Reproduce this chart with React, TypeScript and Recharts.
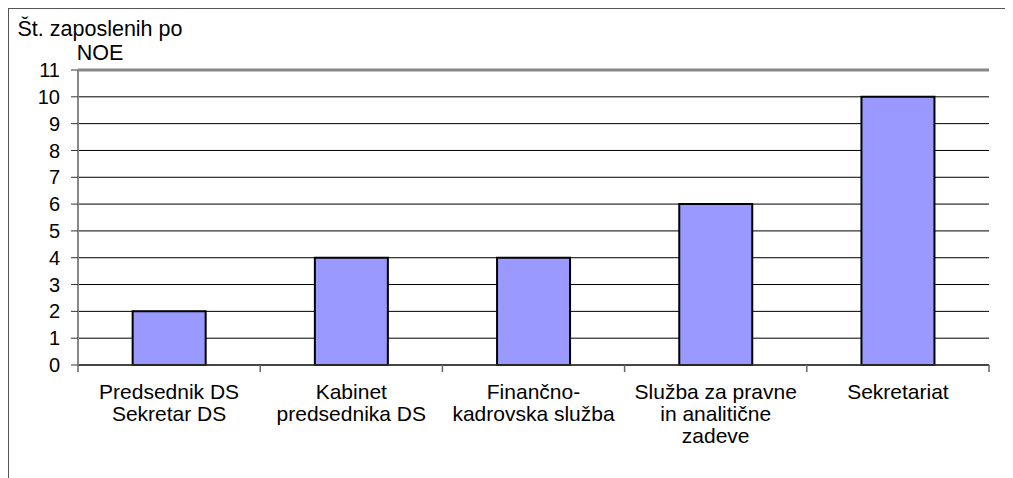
import { BarChart, Bar, XAxis, YAxis, CartesianGrid, ReferenceLine } from 'recharts'

const categories = [
  'Predsednik DS\nSekretar DS',
  'Kabinet\npredsednika DS',
  'Finančno-\nkadrovska služba',
  'Služba za pravne\nin analitične\nzadeve',
  'Sekretariat',
]
const employees = [2, 4, 4, 6, 10]
const yTicks = [0, 1, 2, 3, 4, 5, 6, 7, 8, 9, 10, 11]
const titleLines = ['Št. zaposlenih po', 'NOE']

const data = categories.map((name, i) => ({ name, value: employees[i] }))

const W = 1004
const H = 469
const margin = { top: 61, right: 24, left: 0, bottom: 13 }
const yAxisW = 69
const bandW = (W - margin.left - margin.right - yAxisW) / categories.length
const font = '"Liberation Sans", Arial, sans-serif'

const CategoryTick = (props: any) => {
  const { x, y, payload, index } = props
  const lines = String(payload.value).split('\n')
  const axisY = y - 8
  return (
    <g>
      <line x1={x - bandW / 2} x2={x - bandW / 2} y1={axisY} y2={axisY + 7} stroke="#666" strokeWidth={1.5} />
      {index === categories.length - 1 && (
        <line x1={x + bandW / 2} x2={x + bandW / 2} y1={axisY} y2={axisY + 7} stroke="#666" strokeWidth={1.5} />
      )}
      <text textAnchor="middle" fontFamily={font} fontSize={21} fill="#000">
        {lines.map((l, i) => (
          <tspan key={i} x={x} y={y + 26 + i * 22}>{l}</tspan>
        ))}
      </text>
    </g>
  )
}

const Title = () => (
  <text textAnchor="middle" fontFamily={font} fontSize={21.5} fill="#000">
    {titleLines.map((l, i) => (
      <tspan key={i} x={91} y={27 + i * 24}>{l}</tspan>
    ))}
  </text>
)

export default function App() {
  return (
    <div style={{ width: W, height: H + 10, borderTop: '1px solid #555', borderLeft: '1px solid #555', background: '#fff' }}>
      <BarChart width={W} height={H} data={data} margin={margin} barCategoryGap="30%">
        <CartesianGrid vertical={false} stroke="#000" strokeWidth={1} />
        <XAxis
          dataKey="name"
          interval={0}
          height={100}
          tick={<CategoryTick />}
          tickLine={false}
          axisLine={{ stroke: '#333', strokeWidth: 1.5 }}
        />
        <YAxis
          domain={[0, 11]}
          ticks={yTicks}
          interval={0}
          width={yAxisW}
          tickSize={7}
          tickMargin={11}
          tick={{ fill: '#000', fontSize: 20, fontFamily: font }}
          tickLine={{ stroke: '#333' }}
          axisLine={{ stroke: '#888', strokeWidth: 2 }}
          label={{ content: <Title /> }}
        />
        <YAxis yAxisId="r" orientation="right" width={0} tick={false} tickLine={false} axisLine={{ stroke: '#888', strokeWidth: 3 }} />
        <ReferenceLine y={11} stroke="#888" strokeWidth={3} />
        <Bar dataKey="value" fill="#9999FF" stroke="#000" strokeWidth={2} isAnimationActive={false} />
      </BarChart>
    </div>
  )
}
